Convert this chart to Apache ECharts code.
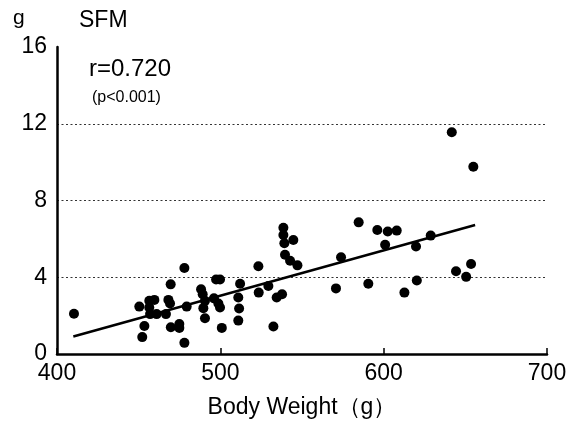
<!DOCTYPE html>
<html><head><meta charset="utf-8">
<script src="https://cdn.jsdelivr.net/npm/echarts@6/dist/echarts.min.js"></script>
<style>html,body{margin:0;padding:0;background:#fff}#c{width:573px;height:424px}</style>
</head><body><div id="c"></div>
<script>
var bodyWeight = [410.4,450.4,456.5,459.6,456.5,457,461,466.7,468.2,469.2,469.6,478,479.4,453.5,452.2,469.7,474.9,474.9,478,
488.2,489.2,490.6,489.6,496.1,498.8,499.8,490.6,500.9,497.4,499.8,512.1,511,511.5,511,523.3,523.5,529.4,534.5,537.8,532.5,
538.6,538.6,539.2,544.7,539.6,542.7,547.2,584.7,596.1,602.5,608,600.9,628.8,619.8,573.9,570.8,590.6,612.7,620.3,641.7,654.9,653.5,644.3,650.5];
var sfm = [2.10,2.47,2.77,2.82,2.42,2.08,2.08,2.08,2.82,2.63,3.63,4.48,2.47,1.46,0.88,1.39,1.56,1.36,0.58,
3.37,3.11,2.77,2.39,2.90,2.63,2.42,1.86,1.36,3.88,3.88,3.66,2.94,2.37,1.74,4.57,3.20,3.54,2.94,3.11,1.43,
6.58,6.20,5.77,5.94,5.17,4.86,4.62,6.86,6.46,6.38,6.43,5.69,6.17,5.60,5.04,3.42,3.66,3.20,3.83,11.56,9.76,4.69,4.31,4.02];
var fitX = [410, 656];
var fitY = [0.91, 6.72];
var xTicks = [400, 500, 600, 700];
var yTicks = [0, 4, 8, 12, 16];
var statText = 'r=0.720';
var pText = '(p<0.001)';

var pts = bodyWeight.map(function(x,i){return [x, sfm[i]];});
var fit = fitX.map(function(x,i){return [x, fitY[i]];});
var FONT = 'Liberation Sans';
var chart = echarts.init(document.getElementById('c'), null, {renderer:'canvas'});
chart.setOption({
  animation:false,
  backgroundColor:'#fff',
  textStyle:{fontFamily:FONT,color:'#000'},
  title:[
    {text:'g', left:8, top:3, textStyle:{fontFamily:FONT,fontSize:21,fontWeight:'normal',color:'#000'}},
    {text:'SFM', left:74, top:4, textStyle:{fontFamily:FONT,fontSize:23,fontWeight:'normal',color:'#000'}}
  ],
  graphic:[
    {type:'text', left:89, top:57, style:{text:statText, font:'24px "Liberation Sans"', fill:'#000'}},
    {type:'text', left:92, top:90, style:{text:pText, font:'16px "Liberation Sans"', fill:'#000'}}
  ],
  grid:{left:57, right:26, top:47, bottom:67, containLabel:false},
  xAxis:{
    type:'value', min:xTicks[0], max:xTicks[xTicks.length-1], interval:100,
    name:'Body Weight（g）', nameLocation:'middle', nameGap:42,
    nameTextStyle:{fontFamily:FONT,fontSize:23,color:'#000'},
    axisLine:{lineStyle:{color:'#000',width:2.5}},
    axisTick:{inside:true,length:6,lineStyle:{color:'#000',width:1.5}},
    axisLabel:{color:'#000',fontSize:23,fontFamily:FONT,margin:8},
    splitLine:{show:false}
  },
  yAxis:{
    type:'value', min:yTicks[0], max:yTicks[yTicks.length-1], interval:4,
    axisLine:{show:true,lineStyle:{color:'#000',width:2.5}},
    axisTick:{show:false},
    axisLabel:{color:'#000',fontSize:23,fontFamily:FONT,margin:10},
    splitLine:{show:true,showMinLine:false,showMaxLine:false,lineStyle:{color:'#333',type:[2,2.5],width:1}}
  },
  series:[
    {type:'scatter', data:pts, symbolSize:10, itemStyle:{color:'#000',opacity:1}, z:3},
    {type:'line', data:fit, symbol:'none', lineStyle:{color:'#000',width:2.5}, z:2}
  ]
});
</script></body></html>
